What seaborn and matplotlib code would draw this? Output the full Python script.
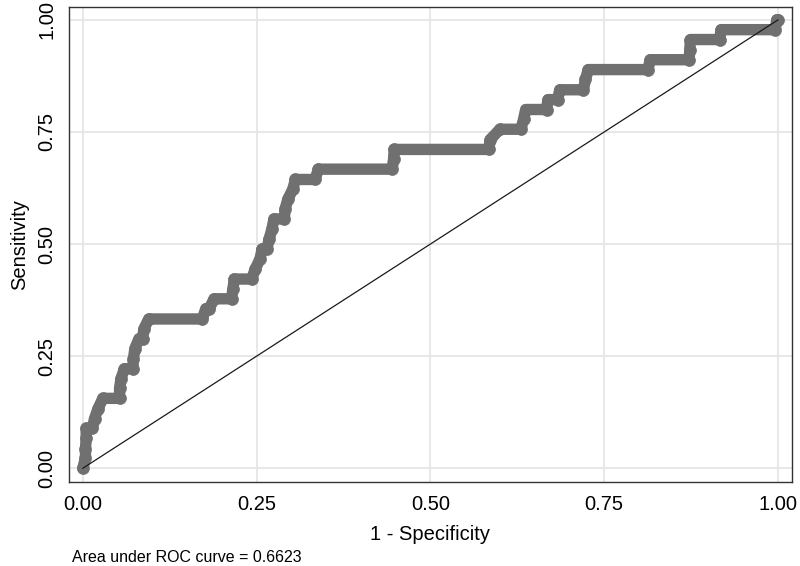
import numpy as np
import pandas as pd
import matplotlib
matplotlib.use("Agg")
import matplotlib.pyplot as plt
import seaborn as sns

# ROC points: 1 - specificity and sensitivity
fpr = [0.000, 0.004, 0.004, 0.005, 0.005, 0.014, 0.017, 0.022, 0.029, 0.053,
       0.053, 0.055, 0.060, 0.072, 0.073, 0.075, 0.081, 0.086, 0.088, 0.095,
       0.172, 0.177, 0.182, 0.189, 0.214, 0.216, 0.218, 0.243, 0.248, 0.255,
       0.258, 0.265, 0.268, 0.272, 0.275, 0.290, 0.291, 0.295, 0.302, 0.306,
       0.334, 0.339, 0.445, 0.447, 0.448, 0.584, 0.586, 0.600, 0.630, 0.634,
       0.637, 0.667, 0.669, 0.683, 0.686, 0.720, 0.723, 0.727, 0.813, 0.816,
       0.872, 0.873, 0.874, 0.916, 0.918, 0.996, 0.998, 1.000]
tpr = [0.000, 0.022, 0.044, 0.067, 0.089, 0.089, 0.111, 0.133, 0.156, 0.156,
       0.178, 0.200, 0.222, 0.222, 0.244, 0.267, 0.289, 0.289, 0.311, 0.333,
       0.333, 0.356, 0.356, 0.378, 0.378, 0.400, 0.422, 0.422, 0.444, 0.467,
       0.489, 0.489, 0.511, 0.533, 0.556, 0.556, 0.578, 0.600, 0.622, 0.644,
       0.644, 0.667, 0.667, 0.689, 0.711, 0.711, 0.733, 0.756, 0.756, 0.778,
       0.800, 0.800, 0.822, 0.822, 0.844, 0.844, 0.867, 0.889, 0.889, 0.911,
       0.911, 0.933, 0.956, 0.956, 0.978, 0.978, 1.000, 1.000]
ref_line = [0.0, 1.0]
ticks = [0.0, 0.25, 0.5, 0.75, 1.0]
tick_labels = ["0.00", "0.25", "0.50", "0.75", "1.00"]
auc_text = "Area under ROC curve = 0.6623"

df = pd.DataFrame({"fpr": fpr, "tpr": tpr})

sns.set_style("white")
plt.rcParams["font.family"] = ["Liberation Sans", "DejaVu Sans"]
plt.rcParams["text.color"] = "black"
plt.rcParams["axes.labelcolor"] = "black"
plt.rcParams["xtick.color"] = "black"
plt.rcParams["ytick.color"] = "black"

fig = plt.figure(figsize=(8, 5.66), dpi=100)
ax = fig.add_axes([0.086, 0.148, 0.904, 0.840])

gray = "#707070"
sns.lineplot(data=df, x="fpr", y="tpr", sort=False, estimator=None, ax=ax,
             color=gray, linewidth=8.2, marker="o", markersize=8.6,
             markeredgecolor=gray, markeredgewidth=0.5,
             solid_capstyle="round", solid_joinstyle="round", zorder=3)
sns.lineplot(x=ref_line, y=ref_line, ax=ax, color="#1a1a1a", linewidth=0.9,
             zorder=4)

ax.set_xlim(-0.02, 1.02)
ax.set_ylim(-0.031, 1.029)
ax.set_xticks(ticks)
ax.set_yticks(ticks)
ax.set_xticklabels(tick_labels)
ax.set_yticklabels(tick_labels, rotation=90, va="center")
ax.grid(True, color="#e6e6e6", linewidth=1.3)
ax.set_axisbelow(True)
for s in ax.spines.values():
    s.set_color("#333333")
    s.set_linewidth(1.0)
ax.tick_params(axis="both", direction="out", length=6, width=1.0,
               color="#333333", labelsize=14.5, pad=3)
ax.set_xlabel("1 - Specificity", fontsize=14.5, labelpad=8)
ax.set_ylabel("Sensitivity", fontsize=14.5, labelpad=6)

fig.text(72 / 800, 1 - 557 / 566, auc_text, fontsize=11.5, va="center",
         ha="left")

fig.savefig("out.png", dpi=100)
